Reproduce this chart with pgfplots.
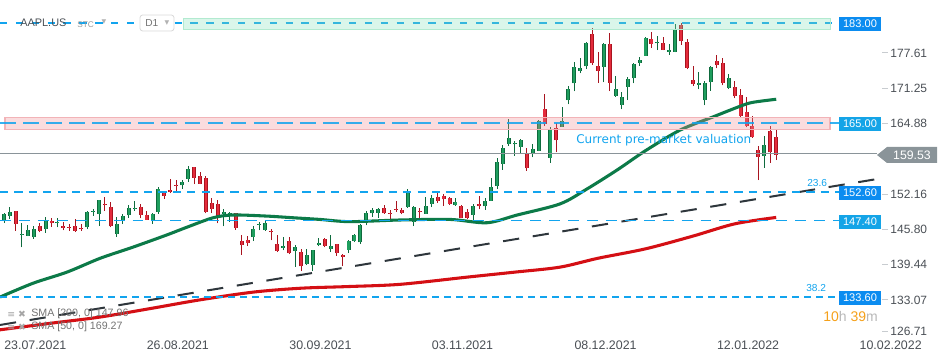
\documentclass[border=0pt]{standalone}
\usepackage{pgfplots}
\pgfplotsset{compat=1.18}
\usepackage{pgfplotstable}
\usepackage{fontspec}
\setmainfont{Liberation Sans}
\newfontfamily\dejavu{DejaVu Sans}
\definecolor{gB}{HTML}{1F9E5E}
\definecolor{gE}{HTML}{0E6A3D}
\definecolor{rB}{HTML}{E42B3C}
\definecolor{rE}{HTML}{A8141F}
\definecolor{smag}{HTML}{0C7A48}
\definecolor{smar}{HTML}{D40F14}
\definecolor{lvl}{HTML}{12A4EE}
\definecolor{tagA}{HTML}{0B8CF0}
\definecolor{tagB}{HTML}{14A4E7}
\definecolor{tagg}{HTML}{8A9499}
\definecolor{labg}{HTML}{4A4F55}
\definecolor{tickg}{HTML}{C8CCD0}
\definecolor{trendc}{HTML}{2E363C}
\definecolor{pinkF}{HTML}{F08A92}
\definecolor{pinkE}{HTML}{F2B3B7}
\definecolor{mintF}{HTML}{86E0B8}
\definecolor{mintE}{HTML}{B2EAD0}
\definecolor{orng}{HTML}{F5A01A}
\newcommand\fs[1]{\fontsize{#1}{#1}\selectfont}
\newcommand\tdash{\textcolor{tickg}{\rule[0.33em]{4.5pt}{0.6pt}}\hspace{1.6pt}}

\pgfplotstableread{
i O H L C
0 147.55 148.72 146.92 148.56
1 148.27 149.83 147.70 148.99
3 144.81 146.97 142.54 144.98
4 144.69 146.55 144.58 145.64
5 144.38 146.33 144.11 145.86
7 145.81 148.04 145.18 147.36
9 146.98 147.84 146.17 147.06
14 146.19 149.05 145.84 148.89
15 148.97 149.44 148.27 149.10
16 148.54 151.19 146.47 151.12
19 145.03 148.00 144.50 146.70
20 147.44 148.50 146.78 148.19
21 148.31 150.19 147.89 149.71
22 149.45 150.86 149.15 149.62
25 147.48 148.75 146.83 148.60
26 149.00 153.49 148.61 153.12
30 153.76 154.63 153.09 154.30
31 154.97 157.26 154.39 156.69
37 148.56 149.44 146.37 149.03
38 148.44 148.97 147.22 148.79
42 144.45 146.43 143.70 145.85
43 146.65 147.08 145.64 146.83
44 145.66 147.47 145.56 146.92
47 142.47 144.45 142.03 142.83
49 141.90 142.92 139.11 142.65
51 139.49 142.24 139.36 141.11
52 139.47 142.15 138.37 142.00
53 143.06 144.22 142.72 143.29
55 142.27 144.81 141.81 142.81
58 142.11 143.88 141.51 143.76
59 143.77 144.90 143.51 144.84
60 143.45 146.84 143.16 146.55
61 147.01 149.17 146.55 148.76
62 148.70 149.75 148.12 149.26
63 148.81 149.64 147.87 149.48
68 149.82 153.17 149.72 152.57
69 147.22 149.94 146.41 149.80
71 148.66 151.57 148.65 150.02
72 150.39 151.97 149.82 151.49
76 150.20 151.43 150.06 150.81
79 148.43 150.40 147.48 149.99
81 149.94 151.49 149.34 151.00
82 151.00 155.00 150.99 153.49
83 153.71 158.67 153.05 157.87
84 157.65 161.02 156.53 160.55
85 161.20 165.70 160.90 162.30
86 161.12 161.80 159.06 161.41
87 160.75 162.14 159.64 161.94
89 159.37 161.19 158.79 160.24
90 159.99 165.52 159.92 165.30
92 158.74 164.20 157.80 163.76
94 164.29 167.88 164.28 165.32
95 169.08 171.58 168.34 171.18
96 172.13 175.96 170.70 175.08
97 174.40 176.75 173.92 174.90
98 175.21 179.63 174.69 179.45
101 175.11 179.50 172.31 179.30
103 169.93 173.47 169.69 171.14
104 168.28 170.58 167.46 169.75
105 171.56 173.20 169.12 172.99
106 173.04 175.86 172.15 175.64
107 175.85 176.85 175.27 176.28
108 177.09 180.42 177.07 180.33
110 179.33 180.63 178.14 179.38
112 177.80 179.23 177.26 178.20
113 177.83 182.88 177.71 182.01
117 171.90 174.14 171.03 172.20
118 169.08 172.50 168.17 172.19
119 172.32 175.18 170.82 175.08
122 171.34 173.78 171.09 173.07
128 159.00 162.60 156.90 161.00
}\upc

\pgfplotstableread{
i O H L C
2 149.12 149.21 145.55 146.77
6 146.36 146.95 145.25 145.52
8 147.27 147.79 146.28 146.95
10 146.35 147.11 145.63 146.14
11 146.20 146.70 145.52 146.09
12 146.44 147.71 145.30 145.60
13 146.05 146.72 145.53 145.86
17 150.23 151.68 149.09 150.19
18 149.80 150.72 146.15 146.36
23 149.81 150.32 147.80 148.36
24 148.35 149.12 147.51 147.54
27 152.66 152.80 151.29 151.83
28 152.83 154.98 152.34 152.51
29 153.87 154.72 152.40 153.65
32 156.98 157.04 153.98 155.11
33 155.49 156.11 153.95 154.07
34 155.00 155.48 148.70 148.97
35 150.63 151.42 148.75 149.55
36 150.35 151.07 146.91 148.12
39 148.82 148.82 145.76 146.06
40 143.80 144.84 141.27 142.94
41 143.93 144.60 142.78 143.43
45 145.47 145.96 143.82 145.37
46 143.25 144.75 141.69 141.91
48 143.66 144.38 141.28 141.50
50 141.76 142.21 138.27 139.14
54 144.03 144.18 142.56 142.90
56 143.23 143.25 141.04 141.51
57 141.24 141.40 139.20 140.91
64 149.69 150.18 148.64 148.69
65 148.68 149.37 147.62 148.64
66 149.33 150.84 149.01 149.32
67 149.36 149.73 148.49 148.85
70 148.99 149.70 147.80 148.96
73 151.58 152.43 150.64 150.96
74 151.89 152.20 150.06 151.28
75 151.41 151.57 150.16 150.44
77 150.02 150.13 147.85 147.92
78 148.96 149.43 147.68 147.87
80 150.37 151.88 149.43 150.00
88 159.57 160.45 156.36 156.81
91 167.48 170.30 164.53 164.77
93 164.02 164.96 159.72 161.84
99 181.12 182.13 175.53 175.74
100 175.25 177.74 172.21 174.33
102 179.28 181.14 170.75 172.26
109 180.16 181.33 178.53 179.29
111 179.47 180.57 178.09 178.20
114 182.63 182.94 179.12 179.70
115 179.61 180.17 174.64 174.92
116 172.70 175.30 171.64 172.00
120 176.12 177.18 174.82 175.53
121 175.78 176.62 171.79 172.19
123 171.51 172.54 169.41 169.80
124 170.00 171.08 165.94 166.23
125 166.98 169.68 164.18 164.51
126 164.42 166.33 162.30 162.41
127 160.10 160.90 154.70 158.90
129 163.50 164.39 157.82 159.69
130 162.45 163.84 158.28 159.22
}\downc

\pgfplotstableread{
i v
-0.67 133.6
4.9 136.1
10.6 138.1
16.2 140.6
21.7 142.6
27.4 144.8
30.8 146.2
35.2 147.9
38.6 148.4
44.3 148.2
48.7 147.9
53.2 147.6
58.2 147.2
66.7 147.5
75.1 147.6
81.3 147.0
86.4 148.4
93.6 150.4
98 153.0
103.2 156.5
108 160.0
113.8 163.7
119.4 166.1
123.9 168.0
126 168.7
130 169.27
}\smaF

\pgfplotstableread{
i v
-0.67 127.7
8 128.9
16.2 130.0
25 131.6
33 133.1
42 134.5
50 135.2
58 135.5
66.7 135.9
78 137.2
86 138.1
93.6 139.0
100 140.6
108 142.3
116 144.6
123 146.8
130 147.96
}\smaS

\pgfplotsset{
  wick/.style={draw=none, mark=none, forget plot,
    error bars/.cd, y dir=plus, y explicit, error mark=none,
    error bar style={draw=#1, solid, line width=0.75pt}},
  body/.style 2 args={draw=none, mark=none, forget plot,
    error bars/.cd, y dir=plus, y explicit, error mark=none,
    error bar style={draw=#1, solid, line width=#2}},
  level/.style={draw=lvl, line width=1pt, forget plot},
}

\begin{document}
\begin{tikzpicture}
\begin{axis}[
  name=a, at={(0,0)}, anchor=north west,
  scale only axis, width=712.5pt, height=270.75pt,
  xmin=-0.6734, xmax=159.26, ymin=122.076, ymax=187.166,
  axis line style={draw=none}, tick style={draw=none},
  xtick={0,24,48,72,96,120,144},
  xticklabels={23.07.2021,26.08.2021,30.09.2021,03.11.2021,08.12.2021,12.01.2022,10.02.2022},
  xticklabel style={anchor=base west, inner xsep=0pt, yshift=8.4pt, font=\fs{9.3}, text=labg},
  ytick={177.61,171.25,164.88,152.16,145.80,139.44,133.07},
  yticklabels={\tdash 177.61,\tdash 171.25,\tdash 164.88,\tdash 152.16,\tdash 145.80,\tdash 139.44,\tdash 133.07},
  extra y ticks={126.71}, extra y tick labels={\tdash 126.71},
  extra y tick style={yticklabel style={yshift=3pt}},
  yticklabel pos=right,
  yticklabel style={anchor=west, inner xsep=0pt, xshift=-51pt, font=\fs{9}, text=labg},
]
% price level line at 183
\addplot[level, dash pattern=on 5.5pt off 6.4pt] coordinates {(-0.67,183) (140.57,183)};

% moving average 200 and trend line
\addplot[smar, line width=2.3pt, smooth] table[x=i, y=v] {\smaS};
\addplot[trendc, line width=1.5pt, dash pattern=on 12.2pt off 10.3pt] coordinates {(-0.67,128.57) (147,154.89)};

% candles: wicks
\addplot[wick=gE] table[x=i, y=L, y error plus expr={\thisrow{H}-\thisrow{L}}] {\upc};
\addplot[wick=rE] table[x=i, y=L, y error plus expr={\thisrow{H}-\thisrow{L}}] {\downc};
% candles: bodies
\addplot[body={gE}{3pt}] table[x=i, y=O, y error plus expr={max(\thisrow{C}-\thisrow{O},0.18)}] {\upc};
\addplot[body={gB}{1.6pt}] table[x=i, y=O, y error plus expr={max(\thisrow{C}-\thisrow{O},0.18)}] {\upc};
\addplot[body={rE}{3pt}] table[x=i, y=C, y error plus expr={max(\thisrow{O}-\thisrow{C},0.18)}] {\downc};
\addplot[body={rB}{1.6pt}] table[x=i, y=C, y error plus expr={max(\thisrow{O}-\thisrow{C},0.18)}] {\downc};

% moving average 50
\addplot[smag, line width=2.3pt, smooth] table[x=i, y=v] {\smaF};

% Fibonacci levels
\addplot[level, dash pattern=on 6.2pt off 4.6pt] coordinates {(-0.67,152.52) (140.57,152.52)};
\addplot[level, dash pattern=on 8.2pt off 6pt] coordinates {(-0.67,147.40) (140.57,147.40)};
\addplot[level, dash pattern=on 5.2pt off 3.8pt] coordinates {(-0.67,133.60) (140.57,133.60)};

% last price
\addplot[tagg, line width=0.9pt] coordinates {(-0.67,159.45) (146.97,159.45)};

% zones
\fill[pinkF, fill opacity=0.3] (axis cs:0.17,163.85) rectangle (axis cs:139.06,166.02);
\draw[pinkE, line width=0.8pt] (axis cs:0.17,163.85) rectangle (axis cs:139.06,166.02);
\addplot[level, dash pattern=on 11.8pt off 5.5pt, opacity=0.85] coordinates {(-0.67,165) (140.57,165)};
\fill[mintF, fill opacity=0.3] (axis cs:30.13,181.94) rectangle (axis cs:139.06,183.92);
\draw[mintE, line width=0.7pt] (axis cs:30.13,181.94) rectangle (axis cs:139.06,183.92);
\end{axis}

\begin{scope}[x=0.75pt, y=-0.75pt]
% header
\node[anchor=west, inner sep=0pt, text=labg, font=\fs{8.2}] at (20,23) {AAPL.US};
\node[anchor=west, inner sep=0pt, text=gray!80, font=\fs{6.2}] at (77,24.5) {STC};
\node[inner sep=0pt, text=gray!60, font=\dejavu\fs{7}] at (104,22) {▾};
\draw[rounded corners=2pt, draw=black!15, fill=white, line width=0.6pt] (140,15) rectangle (174,31);
\node[anchor=west, inner sep=0pt, text=black!55, font=\fs{7.6}] at (145,23.5) {D1};
\node[inner sep=0pt, text=gray!60, font=\dejavu\fs{7}] at (167,23.5) {▾};
% annotation
\node[anchor=west, inner sep=0pt, text=lvl, font=\dejavu\fs{9}] at (576,140) {Current pre-market valuation};
\node[anchor=west, inner sep=0pt, text=lvl, font=\fs{7.6}] at (807,183) {23.6};
\node[anchor=west, inner sep=0pt, text=lvl, font=\fs{7.6}] at (806,288) {38.2};
% tags
\fill[tagA] (839,17) rectangle (881,31);
\node[text=white, font=\fs{8.3}] at (860,24) {183.00};
\fill[tagB] (839,117) rectangle (881,131);
\node[text=white, font=\fs{8.3}] at (860,124) {165.00};
\fill[tagA] (839,186) rectangle (881,200);
\node[text=white, font=\fs{8.3}] at (860,193) {152.60};
\fill[tagB] (839,215) rectangle (881,229);
\node[text=white, font=\fs{8.3}] at (860,222) {147.40};
\fill[tagA] (839,291) rectangle (881,305);
\node[text=white, font=\fs{8.3}] at (860,298) {133.60};
\fill[tagg] (877,155) -- (887,147) -- (937,147) -- (937,163) -- (887,163) -- cycle;
\node[text=white, font=\fs{9.2}] at (912,155.3) {159.53};
% countdown
\node[anchor=west, inner sep=0pt, font=\fs{10.5}] at (823,316) {\textcolor{orng}{10}\textcolor{black!28}{h} \textcolor{orng}{39}\textcolor{black!28}{m}};
% legend
\node[anchor=west, inner sep=0pt, text=black!35, font=\dejavu\fs{7}] at (7,314) {≡ ✖};
\node[anchor=west, inner sep=0pt, text=black!55, font=\fs{8}] at (31,314) {SMA [200, 0] 147.96};
\node[anchor=west, inner sep=0pt, text=black!35, font=\dejavu\fs{7}] at (7,327) {≡ ✖};
\node[anchor=west, inner sep=0pt, text=black!55, font=\fs{8}] at (31,327) {SMA [50, 0] 169.27};
\end{scope}
\pgfresetboundingbox
\useasboundingbox (a.south west) rectangle (a.north east);
\end{tikzpicture}
\end{document}
